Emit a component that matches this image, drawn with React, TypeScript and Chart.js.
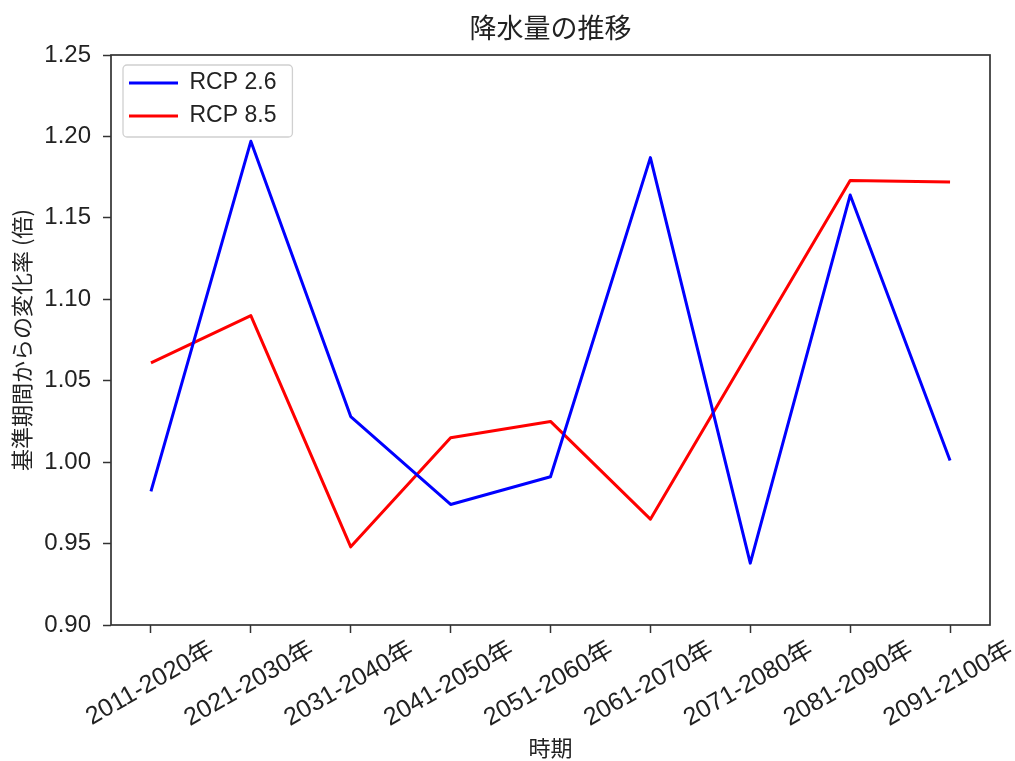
import React, { useEffect, useRef } from 'react';
import { Chart, registerables } from 'chart.js';

Chart.register(...registerables);

// ---- data ----
const categories = [
  '2011-2020年', '2021-2030年', '2031-2040年', '2041-2050年', '2051-2060年',
  '2061-2070年', '2071-2080年', '2081-2090年', '2091-2100年',
];
const rcp26 = [0.982, 1.197, 1.028, 0.974, 0.991, 1.187, 0.938, 1.164, 1.001];
const rcp85 = [1.061, 1.090, 0.948, 1.015, 1.025, 0.965, 1.069, 1.173, 1.172];
const seriesLabels = ['RCP 2.6', 'RCP 8.5'];
const seriesColors = ['#0000ff', '#ff0000'];
const yTicks = [0.90, 0.95, 1.00, 1.05, 1.10, 1.15, 1.20, 1.25];
const titleText = '降水量の推移';
const xTitle = '時期';
const yTitle = '基準期間からの変化率 (倍)';

const W = 1015;
const H = 761;
const FONT = "'Liberation Sans', 'Noto Sans CJK JP', sans-serif";
const CJK_FONT = "'Noto Sans CJK JP', 'Liberation Sans', sans-serif";
const TEXT = '#222222';
const SPINE = '#333333';
const LEG_FONT = 23;
const LEG_PAD = 10;
const LEG_LINE = 49;

const mplPlugin = {
  id: 'mplStyle',
  afterLayout(chart: any) {
    const lg = chart.legend;
    const ca = chart.chartArea;
    if (!lg || !ca) return;
    lg.left = ca.left + 18 - LEG_PAD;
    lg.top = ca.top + 28 - LEG_PAD - LEG_FONT / 2;
    lg.right = ca.right;
    lg.bottom = ca.bottom;
    lg.width = lg.right - lg.left;
    lg.height = lg.bottom - lg.top;
  },
  beforeDraw(chart: any) {
    const lg = chart.legend;
    if (!lg) return;
    const ctx = chart.ctx;
    ctx.save();
    ctx.font = `${LEG_FONT}px ${FONT}`;
    let maxW = 0;
    chart.data.datasets.forEach((d: any) => {
      maxW = Math.max(maxW, ctx.measureText(d.label).width);
    });
    const n = chart.data.datasets.length;
    const x0 = lg.left + LEG_PAD - 6;
    const y0 = lg.top + LEG_PAD + LEG_FONT / 2 - 18;
    const textStart = lg.left + LEG_PAD + LEG_LINE + LEG_FONT / 2;
    const x1 = textStart + maxW + 16;
    const y1 = lg.top + LEG_PAD + (n - 1) * (LEG_FONT + LEG_PAD) + LEG_FONT / 2 + 21;
    const r = 4;
    ctx.beginPath();
    ctx.moveTo(x0 + r, y0);
    ctx.lineTo(x1 - r, y0);
    ctx.arcTo(x1, y0, x1, y0 + r, r);
    ctx.lineTo(x1, y1 - r);
    ctx.arcTo(x1, y1, x1 - r, y1, r);
    ctx.lineTo(x0 + r, y1);
    ctx.arcTo(x0, y1, x0, y1 - r, r);
    ctx.lineTo(x0, y0 + r);
    ctx.arcTo(x0, y0, x0 + r, y0, r);
    ctx.closePath();
    ctx.fillStyle = 'rgba(255,255,255,0.8)';
    ctx.fill();
    ctx.strokeStyle = '#d0d0d0';
    ctx.lineWidth = 1.3;
    ctx.stroke();
    ctx.restore();
  },
  afterDatasetsDraw(chart: any) {
    const { ctx, chartArea: ca } = chart;
    ctx.save();
    ctx.strokeStyle = SPINE;
    ctx.lineWidth = 1.7;
    ctx.strokeRect(ca.left, ca.top, ca.right - ca.left, ca.bottom - ca.top);
    ctx.restore();
  },
};

export default function App() {
  const canvasRef = useRef<HTMLCanvasElement | null>(null);

  useEffect(() => {
    const canvas = canvasRef.current;
    if (!canvas) return;
    Chart.defaults.font.family = FONT;
    Chart.defaults.color = TEXT;

    const toPoints = (vals: number[]) => vals.map((v, i) => ({ x: i, y: v }));
    const makeSet = (k: number, vals: number[]) => ({
      label: seriesLabels[k],
      data: toPoints(vals),
      borderColor: seriesColors[k],
      backgroundColor: seriesColors[k],
      borderWidth: 3,
      pointRadius: 0,
      pointHoverRadius: 0,
      pointStyle: 'line',
      tension: 0,
      borderJoinStyle: 'round',
    });

    const chart = new Chart(canvas, {
      type: 'line',
      data: {
        datasets: [makeSet(0, rcp26), makeSet(1, rcp85)],
      },
      options: {
        responsive: false,
        animation: false,
        devicePixelRatio: 1,
        layout: { padding: { left: 0, right: 25, top: 0, bottom: 0 } },
        plugins: {
          title: {
            display: true,
            fullSize: false,
            text: titleText,
            color: TEXT,
            font: { size: 27, weight: 'normal', family: CJK_FONT },
            padding: { top: 12, bottom: 10.6 },
          },
          legend: {
            display: true,
            position: 'chartArea',
            align: 'start',
            labels: {
              usePointStyle: true,
              pointStyle: 'line',
              pointStyleWidth: LEG_LINE,
              font: { size: LEG_FONT, family: FONT },
              color: TEXT,
              padding: LEG_PAD,
            },
          },
          tooltip: { enabled: false },
        },
        scales: {
          x: {
            type: 'linear',
            min: -0.4,
            max: 8.4,
            afterBuildTicks: (s: any) => {
              s.ticks = categories.map((_, i) => ({ value: i }));
            },
            afterFit: (s: any) => {
              s.height = H - 625;
            },
            ticks: {
              autoSkip: false,
              minRotation: 30,
              maxRotation: 30,
              labelOffset: 61,
              padding: 2,
              color: TEXT,
              font: { size: 25, family: FONT },
              callback: (_v: any, i: number) => categories[i],
            },
            grid: {
              drawOnChartArea: false,
              drawTicks: true,
              tickLength: 8,
              tickColor: SPINE,
              tickWidth: 1.5,
            },
            border: { display: false },
            title: {
              display: true,
              text: xTitle,
              color: TEXT,
              font: { size: 22, family: CJK_FONT },
              padding: { top: 0, bottom: 0 },
            },
          },
          y: {
            type: 'linear',
            min: 0.9,
            max: 1.25,
            afterBuildTicks: (s: any) => {
              s.ticks = yTicks.map((v) => ({ value: v }));
            },
            afterFit: (s: any) => {
              s.width = 111;
            },
            ticks: {
              color: TEXT,
              padding: 12,
              font: { size: 24, family: FONT },
              callback: (v: any) => Number(v).toFixed(2),
            },
            grid: {
              drawOnChartArea: false,
              drawTicks: true,
              tickLength: 8,
              tickColor: SPINE,
              tickWidth: 1.5,
            },
            border: { display: false },
            title: {
              display: true,
              text: yTitle,
              color: TEXT,
              font: { size: 22, family: CJK_FONT },
              padding: { top: 8, bottom: 0 },
            },
          },
        },
      } as any,
      plugins: [mplPlugin],
    });

    return () => {
      chart.destroy();
    };
  }, []);

  return (
    <div style={{ position: 'fixed', left: 0, top: 0, width: W, height: H, background: '#ffffff' }}>
      <canvas ref={canvasRef} width={W} height={H} style={{ width: W, height: H, display: 'block' }} />
    </div>
  );
}
